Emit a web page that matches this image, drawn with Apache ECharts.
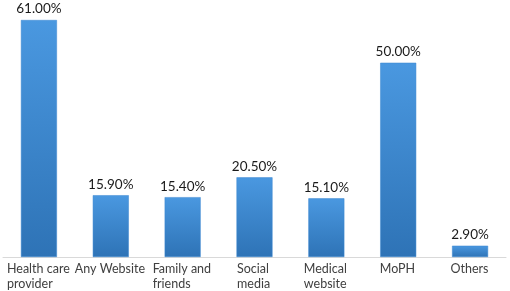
<!DOCTYPE html>
<html>
<head>
<meta charset="utf-8">
<script src="https://cdn.jsdelivr.net/npm/echarts@6/dist/echarts.min.js"></script>
<style>
html, body { margin: 0; padding: 0; background: #fff; }
#chart { width: 510px; height: 291px; }
</style>
</head>
<body>
<div id="chart"></div>
<script>
var categories = ['Health care\nprovider', 'Any Website', 'Family and\nfriends', 'Social\nmedia', 'Medical\nwebsite', 'MoPH', 'Others'];
var values = [61.00, 15.90, 15.40, 20.50, 15.10, 50.00, 2.90];

var catFont = 12.5;
var ctx = document.createElement('canvas').getContext('2d');
ctx.font = catFont + 'px Lato';

function blockWidth(text) {
    var w = 0;
    text.split('\n').forEach(function (l) { w = Math.max(w, ctx.measureText(l).width); });
    return Math.ceil(w) + 1;
}

// left aligned lines inside a centred block
function wrapLabel(text) {
    var w = blockWidth(text);
    return text.split('\n').map(function (l) { return '{l' + w + '|' + l + '}'; }).join('\n');
}

var rich = {};
categories.forEach(function (c) {
    var w = blockWidth(c);
    rich['l' + w] = { width: w, align: 'left', fontFamily: 'Lato', fontSize: catFont, color: '#404040', lineHeight: 15 };
});

var myChart = echarts.init(document.getElementById('chart'));
var option = {
    animation: false,
    grid: { left: 3, right: 4, top: 20, bottom: 34 },
    xAxis: {
        type: 'category',
        data: categories,
        axisLine: { lineStyle: { color: '#d9d9d9', width: 1 } },
        axisTick: { show: false },
        axisLabel: {
            interval: 0,
            margin: 4,
            formatter: wrapLabel,
            rich: rich
        }
    },
    yAxis: {
        type: 'value',
        min: 0,
        max: 61,
        show: false
    },
    series: [{
        type: 'bar',
        data: values,
        barWidth: 36,
        itemStyle: {
            color: new echarts.graphic.LinearGradient(0, 0, 0, 1, [
                { offset: 0, color: '#4a98e0' },
                { offset: 1, color: '#2e73b6' }
            ]),
            borderColor: '#3a86d0',
            borderWidth: 0.5
        },
        label: {
            show: true,
            position: 'top',
            distance: 4,
            fontFamily: 'Lato',
            fontSize: 13.5,
            color: '#1a1a1a',
            formatter: function (p) { return p.value.toFixed(2) + '%'; }
        }
    }]
};
myChart.setOption(option);
window.addEventListener('resize', function () {
    myChart.resize();
});
</script>
</body>
</html>
